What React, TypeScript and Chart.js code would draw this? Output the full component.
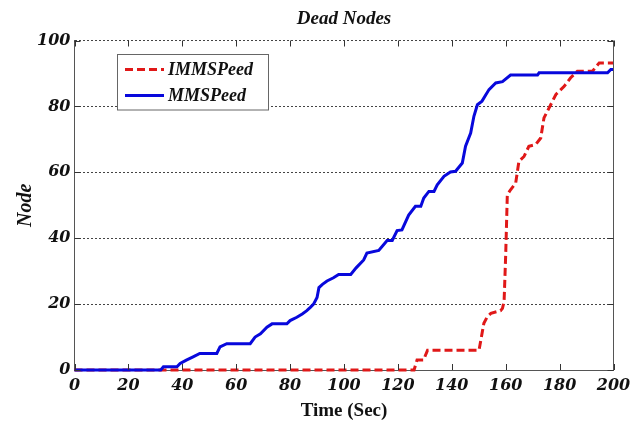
import React, { useEffect, useRef } from "react";
import { Chart, registerables } from "chart.js";

Chart.register(...registerables);

const chartTitle = "Dead Nodes";
const xAxisTitle = "Time (Sec)";
const yAxisTitle = "Node";
const seriesNames = ["IMMSPeed", "MMSPeed"];

const xTicks = [0, 20, 40, 60, 80, 100, 120, 140, 160, 180, 200];
const yTicks = [0, 20, 40, 60, 80, 100];

const immsTime = [0, 126, 127.1, 129.5, 131, 150.1, 151.9, 153.2, 154.5, 158.1, 158.8, 159.4, 160, 160.6, 161.8, 163.7, 164.9, 166.8, 168.6, 171.1, 173, 174.2, 176.7, 178.6, 181.7, 184.1, 186.6, 192.2, 194.7, 200];
const immsNodes = [0, 0, 3, 3, 6, 6, 14.2, 16.2, 17.2, 18, 18.7, 20.8, 35, 53.2, 54.7, 56.7, 63.3, 64.8, 67.9, 68.4, 70.4, 76.5, 80.5, 83.6, 86.1, 88.7, 90.7, 90.7, 93.2, 93.2];

const mmsTime = [0, 32, 33, 38, 39.2, 41.5, 44, 46.5, 52.8, 54, 56.5, 65.2, 67, 69, 71.4, 73.3, 78.8, 80, 82.5, 84.5, 86.2, 87.5, 88.7, 90, 90.7, 92, 93.7, 96.1, 98, 102.5, 104.5, 107.3, 108.5, 112.9, 116, 117.9, 119.7, 121.5, 124, 126.5, 128.5, 129.6, 131.5, 133.4, 134.6, 137.1, 139.5, 141.4, 143.9, 145.1, 147, 148.2, 149.5, 151.2, 153.8, 156.3, 158.8, 161.8, 171.8, 172.4, 197.8, 199, 200];
const mmsNodes = [0, 0, 1, 1, 2, 3, 4, 5, 5, 7, 8, 8, 10, 11, 13, 14, 14, 15, 16, 17, 18, 19, 20, 22, 25, 26, 27, 28, 29, 29, 31, 33.4, 35.5, 36.3, 39.3, 39.3, 42.3, 42.5, 47, 49.7, 49.7, 52.2, 54.2, 54.2, 56.2, 58.8, 60.1, 60.3, 62.8, 67.9, 71.9, 77, 80.5, 81.6, 85.1, 87.1, 87.5, 89.5, 89.5, 90.2, 90.2, 91.2, 91.2];

const RED = "#e01818";
const BLUE = "#0808dc";
const AXIS = "#555555";
const SERIF = "'Liberation Serif', serif";
const TICKFONT = "'DejaVu Serif', serif";

const toPoints = (xs: number[], ys: number[]) => xs.map((x, i) => ({ x, y: ys[i] }));

const decorPlugin = {
  id: "decor",
  afterDraw(chart: any) {
    const { ctx, chartArea, scales } = chart;
    const { left, right, top, bottom } = chartArea;
    ctx.save();
    // right border
    ctx.strokeStyle = AXIS;
    ctx.lineWidth = 1;
    ctx.beginPath();
    ctx.moveTo(right, top);
    ctx.lineTo(right, bottom);
    ctx.stroke();
    // inward tick marks
    ctx.strokeStyle = "#333";
    const tl = 6;
    xTicks.forEach((v) => {
      const px = Math.round(scales.x.getPixelForValue(v)) + 0.5;
      ctx.beginPath();
      ctx.moveTo(px, bottom);
      ctx.lineTo(px, bottom - tl);
      ctx.moveTo(px, top);
      ctx.lineTo(px, top + tl);
      ctx.stroke();
    });
    yTicks.forEach((v) => {
      const py = Math.round(scales.y.getPixelForValue(v)) + 0.5;
      ctx.beginPath();
      ctx.moveTo(left, py);
      ctx.lineTo(left + tl, py);
      ctx.moveTo(right, py);
      ctx.lineTo(right - tl, py);
      ctx.stroke();
    });
    // title
    ctx.fillStyle = "#111";
    ctx.font = `italic bold 19px ${SERIF}`;
    ctx.textAlign = "center";
    ctx.textBaseline = "alphabetic";
    ctx.fillText(chartTitle, (left + right) / 2, 24);
    // legend
    const bx = 117.5, by = 54.5, bw = 151, bh = 55.5;
    ctx.fillStyle = "#fff";
    ctx.fillRect(bx, by, bw, bh);
    ctx.strokeStyle = "#666";
    ctx.lineWidth = 1;
    ctx.strokeRect(bx, by, bw, bh);
    const rows = [
      { name: seriesNames[0], color: RED, dash: [8, 4], y: 69.5 },
      { name: seriesNames[1], color: BLUE, dash: [], y: 95.5 },
    ];
    rows.forEach((r) => {
      ctx.strokeStyle = r.color;
      ctx.lineWidth = 3;
      ctx.setLineDash(r.dash);
      ctx.beginPath();
      ctx.moveTo(125, r.y);
      ctx.lineTo(164, r.y);
      ctx.stroke();
      ctx.setLineDash([]);
      ctx.fillStyle = "#111";
      ctx.font = `italic bold 18px ${SERIF}`;
      ctx.textAlign = "left";
      ctx.textBaseline = "middle";
      ctx.fillText(r.name, 168, r.y + 1);
    });
    ctx.restore();
  },
};

export default function App() {
  const ref = useRef<HTMLCanvasElement | null>(null);
  useEffect(() => {
    document.body.style.margin = "0";
    const canvas = ref.current;
    if (!canvas) return;
    const chart = new Chart(canvas, {
      type: "line",
      data: {
        datasets: [
          {
            label: seriesNames[0],
            data: toPoints(immsTime, immsNodes),
            borderColor: RED,
            backgroundColor: RED,
            borderWidth: 3,
            borderDash: [8, 4],
            pointRadius: 0,
            tension: 0,
            order: 1,
            clip: 4,
          },
          {
            label: seriesNames[1],
            data: toPoints(mmsTime, mmsNodes),
            borderColor: BLUE,
            backgroundColor: BLUE,
            borderWidth: 3,
            pointRadius: 0,
            tension: 0,
            order: 0,
            clip: 4,
          },
        ],
      },
      options: {
        responsive: false,
        animation: false,
        devicePixelRatio: 1,
        layout: { padding: { top: 40.5, right: 30.5, left: 0, bottom: 0 } },
        plugins: {
          legend: { display: false },
          title: { display: false },
          tooltip: { enabled: false },
        },
        scales: {
          x: {
            type: "linear",
            min: 0,
            max: 200,
            afterBuildTicks: (s: any) => {
              s.ticks = xTicks.map((v) => ({ value: v }));
            },
            afterFit: (s: any) => {
              s.height = 55;
            },
            grid: { display: false, drawTicks: false },
            border: { display: true, color: AXIS, width: 1 },
            ticks: {
              color: "#111",
              padding: 6,
              maxRotation: 0,
              font: { family: TICKFONT, size: 16, style: "italic", weight: "bold" },
            },
            title: {
              display: true,
              text: xAxisTitle,
              color: "#111",
              padding: { top: 0, bottom: 2.6 },
              font: { family: SERIF, size: 19, weight: "bold" },
            },
          },
          y: {
            type: "linear",
            min: 0,
            max: 100,
            afterBuildTicks: (s: any) => {
              s.ticks = yTicks.map((v) => ({ value: v }));
            },
            afterFit: (s: any) => {
              s.width = 74.5;
            },
            grid: {
              display: true,
              drawTicks: false,
              color: "#444",
              lineWidth: 1,
            },
            border: { display: true, color: AXIS, width: 1, dash: [2, 2] },
            ticks: {
              color: "#111",
              padding: 4,
              font: { family: TICKFONT, size: 16, style: "italic", weight: "bold" },
            },
            title: {
              display: true,
              text: yAxisTitle,
              color: "#111",
              padding: { top: 13.5, bottom: 0 },
              font: { family: SERIF, size: 20, style: "italic", weight: "bold" },
            },
          },
        },
      },
      plugins: [decorPlugin],
    });
    return () => chart.destroy();
  }, []);
  return (
    <div style={{ width: 644, height: 425, position: "relative" }}>
      <canvas ref={ref} width={644} height={425} />
    </div>
  );
}
